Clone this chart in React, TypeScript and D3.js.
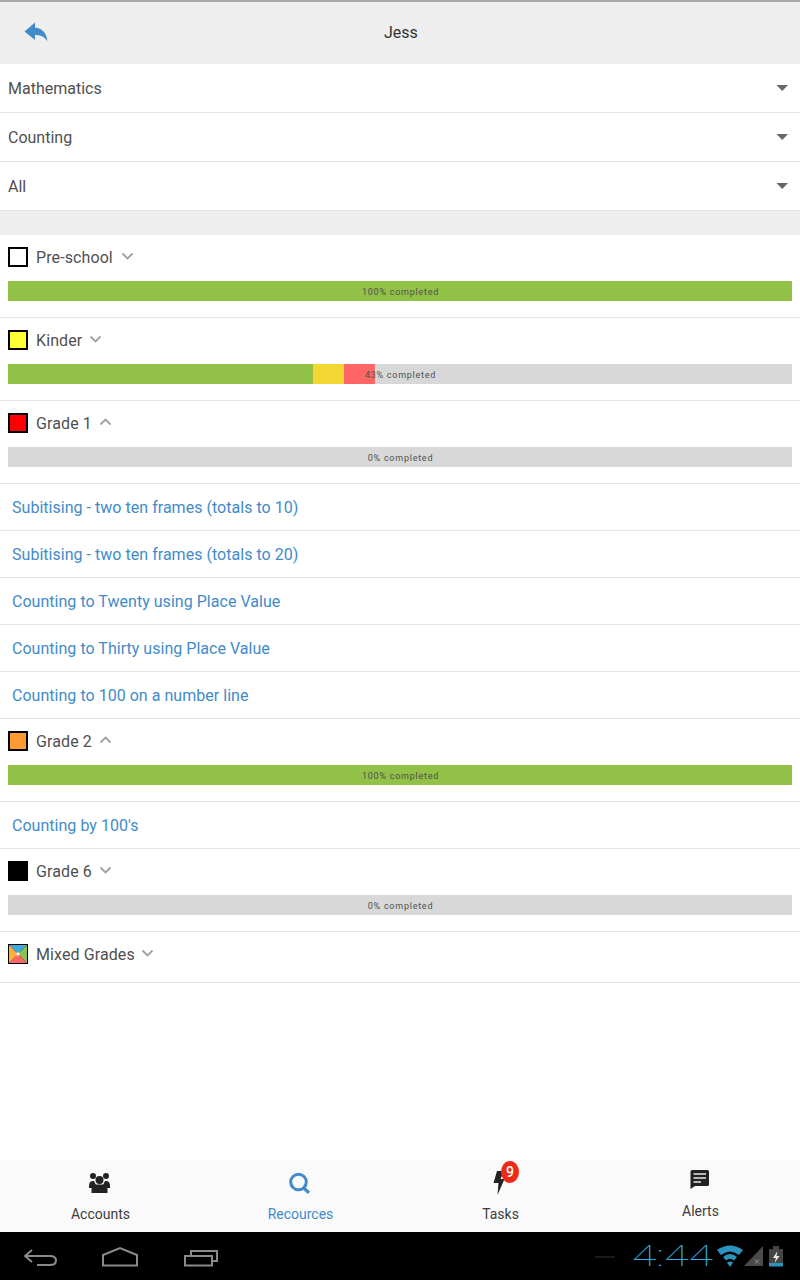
import React from "react";
import * as d3 from "d3";

const filters = ["Mathematics", "Counting", "All"];

const gradeNames = ["Pre-school", "Kinder", "Grade 1", "Grade 2", "Grade 6", "Mixed Grades"];
const gradeColors = ["#ffffff", "#ffff33", "#ff0000", "#ff9933", "#000000", "mixed"];
const gradeExpanded = [false, false, true, true, false, false];
const greenValues = [100, 38.9, 0, 100, 0, -1];
const yellowValues = [0, 3.95, 0, 0, 0, -1];
const redValues = [0, 3.95, 0, 0, 0, -1];
const completedLabels = ["100% completed", "43% completed", "0% completed", "100% completed", "0% completed", ""];
const gradeLinks: string[][] = [
  [],
  [],
  [
    "Subitising - two ten frames (totals to 10)",
    "Subitising - two ten frames (totals to 20)",
    "Counting to Twenty using Place Value",
    "Counting to Thirty using Place Value",
    "Counting to 100 on a number line",
  ],
  ["Counting by 100's"],
  [],
  [],
];

const navLabels = ["Accounts", "Recources", "Tasks", "Alerts"];
const taskBadge = "9";
const clockText = "4:44";
const title = "Jess";

const FONT = "Roboto, sans-serif";
const BLUE = "#428bca";
const TEXT = "#505050";
const LINE = "#e4e4e4";

const x = d3.scaleLinear().domain([0, 100]).range([8, 792]);
const navX = d3.scalePoint<string>().domain(navLabels).range([100, 700]);
const segColors = d3.scaleOrdinal<string, string>().domain(["green", "yellow", "red"]).range(["#91c147", "#f5d733", "#ff6666"]);

function Chevron({ cx, cy, up, color = "#a0a0a0" }: { cx: number; cy: number; up: boolean; color?: string }) {
  const d = up ? -1 : 1;
  return (
    <path
      d={`M${cx - 5},${cy - 2.5 * d}L${cx},${cy + 2.5 * d}L${cx + 5},${cy - 2.5 * d}`}
      fill="none"
      stroke={color}
      strokeWidth={1.8}
    />
  );
}

function MixedSwatch({ y }: { y: number }) {
  const cx = 18, cy = y + 10;
  const tri = (pts: number[][], fill: string) => (
    <polygon points={pts.map((p) => p.join(",")).join(" ")} fill={fill} />
  );
  return (
    <g>
      <rect x={8} y={y} width={20} height={20} fill="#000" />
      {tri([[9, y + 1], [27, y + 1], [cx, cy]], "#3fa9dc")}
      {tri([[27, y + 1], [27, y + 19], [cx, cy]], "#8cc152")}
      {tri([[27, y + 19], [9, y + 19], [cx, cy]], "#ff6666")}
      {tri([[9, y + 19], [9, y + 1], [cx, cy]], "#fdb03f")}
      <rect x={cx - 1.5} y={cy - 1.5} width={3} height={3} fill="#fff8d8" />
    </g>
  );
}

function Grade({ i, y }: { i: number; y: number }) {
  const name = gradeNames[i];
  const color = gradeColors[i];
  const hasBar = greenValues[i] >= 0;
  const segs = [
    { k: "green", v: greenValues[i] },
    { k: "yellow", v: yellowValues[i] },
    { k: "red", v: redValues[i] },
  ];
  let acc = 0;
  const cy = y + 22;
  const chevX = [127.5, 95.5, 105.5, 105.5, 105.5, 147.5][i];
  return (
    <g>
      {color === "mixed" ? (
        <MixedSwatch y={y + 12} />
      ) : (
        <rect x={9} y={y + 13} width={18} height={18} fill={color} stroke="#000" strokeWidth={2} />
      )}
      <text x={36} y={cy + 5.5} fontSize={16} letterSpacing={0.1} fontFamily={FONT} fill={TEXT}>
        {name}
      </text>
      <Chevron cx={chevX} cy={cy - 1} up={gradeExpanded[i]} />
      {hasBar && (
        <g>
          <rect x={x(0)} y={y + 46} width={x(100) - x(0)} height={20} fill="#d8d8d8" />
          {segs.map((s) => {
            const start = acc;
            acc += s.v;
            return s.v > 0 ? (
              <rect key={s.k} x={x(start)} y={y + 46} width={x(start + s.v) - x(start)} height={20} fill={segColors(s.k)} />
            ) : null;
          })}
          <text
            x={x(50) + 0.5}
            y={y + 60}
            textAnchor="middle"
            fontSize={9}
            letterSpacing={0.75}
            fontFamily={FONT}
            fill="#505050"
          >
            {completedLabels[i]}
          </text>
        </g>
      )}
    </g>
  );
}

export default function App() {
  let y = 235;
  const blocks: React.ReactNode[] = [];
  gradeNames.forEach((_, i) => {
    const h = greenValues[i] >= 0 ? 83 : 51;
    blocks.push(<Grade key={i} i={i} y={y} />);
    y += h - 1;
    blocks.push(<rect key={`s${i}`} x={0} y={y} width={800} height={1} fill={LINE} />);
    y += 1;
    gradeLinks[i].forEach((l, j) => {
      blocks.push(
        <text key={`${i}l${j}`} x={12} y={y + 29} fontSize={16} letterSpacing={0.03} fontFamily={FONT} fill={BLUE}>
          {l}
        </text>
      );
      y += 47;
      blocks.push(<rect key={`${i}ls${j}`} x={0} y={y - 1} width={800} height={1} fill={LINE} />);
    });
  });

  return (
    <svg width={800} height={1280} style={{ position: "fixed", left: 0, top: 0, background: "#fff" }}>
      {/* header */}
      <rect width={800} height={64} fill="#eeeeee" />
      <rect width={800} height={2} fill="#a8a8a8" />
      <path
        d="M24.5,31.5L35,22.5L35,27.5C42,28 46.5,33 47.5,41C44,36.5 40,35 35,35L35,40Z"
        fill={BLUE}
      />
      <text x={400.8} y={37.5} textAnchor="middle" fontSize={16} fontFamily={FONT} fill="#333">
        {title}
      </text>

      {/* filters */}
      {filters.map((f, i) => {
        const top = 64 + i * 49;
        return (
          <g key={f}>
            <text x={8} y={top + 29.5} fontSize={16} fontFamily={FONT} fill={TEXT}>
              {f}
            </text>
            <path d={`M776.5,${top + 21}L788,${top + 21}L782.2,${top + 27}Z`} fill="#666" />
            <rect x={0} y={top + 48} width={800} height={1} fill={LINE} />
          </g>
        );
      })}
      <rect x={0} y={211} width={800} height={24} fill="#eeeeee" />

      {blocks}

      {/* bottom nav */}
      <rect x={0} y={1160} width={800} height={72} fill="#fafafa" />
      {navLabels.map((l, i) => (
        <text
          key={l}
          x={(navX(l) as number) + 0.5}
          y={i === 3 ? 1216 : 1219}
          textAnchor="middle"
          fontSize={14}
          fontFamily={FONT}
          fill={i === 1 ? BLUE : "#3c3c3c"}
        >
          {l}
        </text>
      ))}

      {/* accounts icon */}
      <g fill="#222">
        <circle cx={93} cy={1176} r={3} />
        <circle cx={106} cy={1176} r={3} />
        <path d="M89,1186q0,-5 4,-5h1l2,4l-2,3h-5Z" />
        <path d="M110,1186q0,-5 -4,-5h-1l-2,4l2,3h5Z" />
        <circle cx={99.5} cy={1180} r={4} />
        <path d="M91.5,1193v-4q0,-4.5 5,-4.500h6q5,0 5,4.500v4Z" />
      </g>
      {/* search icon */}
      <circle cx={298.500} cy={1182} r={7.8} fill="none" stroke={BLUE} strokeWidth={3} />
      <path d="M303.500,1188L309,1192.800" stroke={BLUE} strokeWidth={3.2} fill="none" />
      {/* tasks icon */}
      <path d="M497,1171L504,1171L500.500,1179L504.500,1179L497.500,1195L498.500,1183L493.500,1183Z" fill="#222" />
      <ellipse cx={510} cy={1172} rx={9} ry={11} fill="#ee2a16" />
      <text x={510} y={1177} textAnchor="middle" fontSize={14} fontWeight={500} fontFamily={FONT} fill="#fff">
        {taskBadge}
      </text>
      {/* alerts icon */}
      <path d="M692,1170H707.500Q709,1170 709,1171.500V1184.500Q709,1186 707.500,1186H695L690.500,1189V1171.500Q690.500,1170 692,1170Z" fill="#222" />
      <path d="M693.500,1174H706M693.500,1178H706M693.500,1182H701" stroke="#e8e8e8" strokeWidth={1.5} />

      {/* system bar */}
      <rect x={0} y={1232} width={800} height={48} fill="#000" />
      <g fill="none" stroke="#8a8a8a" strokeWidth={2}>
        <path d="M32,1250L25,1256L32,1262M25,1256H50Q56,1256 56,1260.500Q56,1265 50,1265H37" />
        <path d="M103,1265.500V1255L120,1248L137,1255V1265.500Z" />
        <path d="M185,1256H212V1265.500H185ZM191,1256V1251H217V1261H212" />
      </g>
      <rect x={595} y={1256} width={20} height={2} fill="#1a1a1a" />
      <text
        x={632}
        y={1266}
        fontSize={29}
        fontWeight={100}
        textLength={81}
        lengthAdjust="spacingAndGlyphs"
        fontFamily={FONT}
        fill="#33ade0"
      >
        {clockText}
      </text>
      {/* wifi */}
      <path d="M717,1250Q730,1241 743,1250L739,1255Q730,1248 721,1255Z" fill="#2a94bf" />
      <path d="M723,1257Q730,1251 737,1257L734,1260.500Q730,1257 726,1260.500Z" fill="#2a94bf" />
      <path d="M727,1262.500Q730,1260.500 733,1262.500L730,1267Z" fill="#2a94bf" />
      {/* signal */}
      <path d="M744,1266L763,1246V1266Z" fill="#4a4a4a" />
      <path d="M755,1259.500L759,1263.500M759,1259.500L755,1263.500" stroke="#999" strokeWidth={1} />
      {/* battery */}
      <path d="M769,1249H773V1246H779V1249H783V1266H769Z" fill="#444" />
      <rect x={769} y={1263} width={14} height={3.500} fill="#2a94bf" />
      <path d="M777.500,1251L773,1258H776L774.500,1263L779.500,1256H776.500Z" fill="#eee" />
    </svg>
  );
}
